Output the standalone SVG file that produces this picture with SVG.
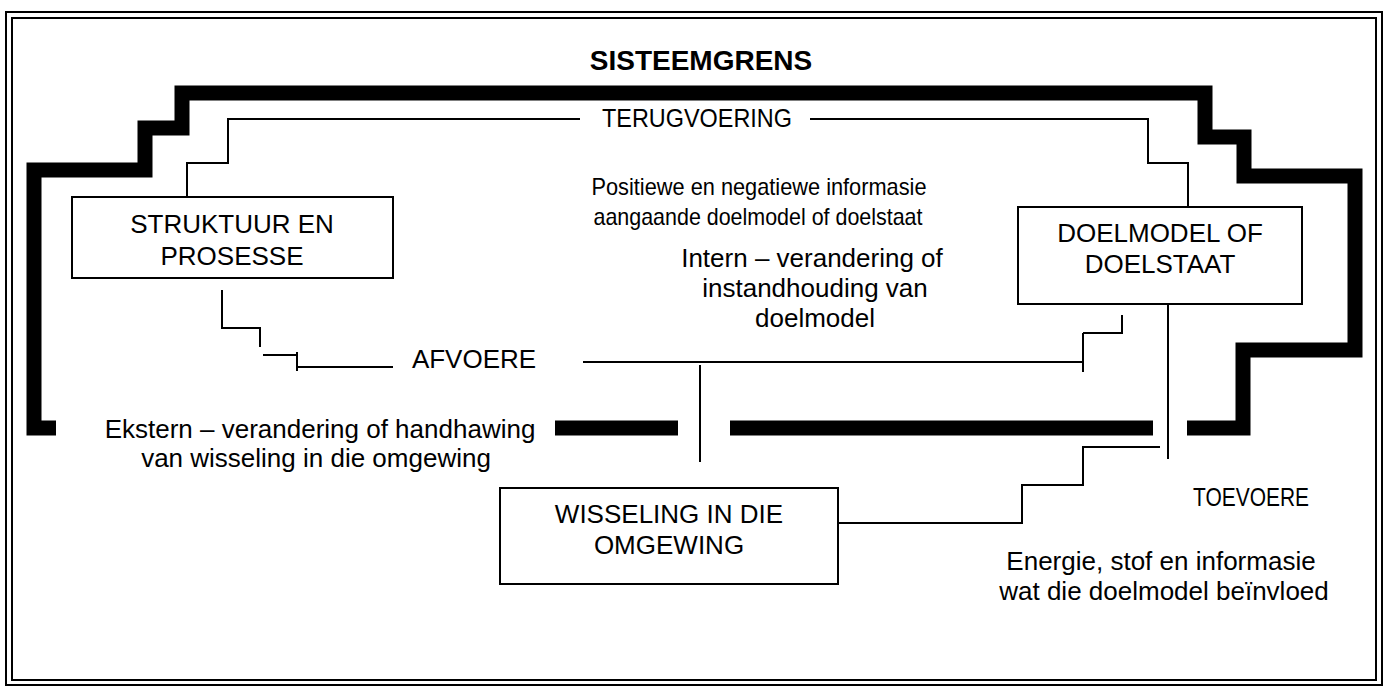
<svg xmlns="http://www.w3.org/2000/svg" width="1386" height="687" viewBox="0 0 1386 687">
  <style>
    text { font-family: "Liberation Sans", Arial, sans-serif; font-size: 26px; fill: #000; text-anchor: middle; }
    .title { font-weight: bold; font-size: 28px; }
    .small { font-size: 24px; }
    .box { fill: #fff; stroke: #000; stroke-width: 2; }
    .wire { fill: none; stroke: #000; stroke-width: 2; }
    .boundary { fill: none; stroke: #000; stroke-width: 15; stroke-linejoin: miter; }
    .frame { fill: none; stroke: #000; stroke-width: 2; }
  </style>

  <rect width="1386" height="687" fill="#fff"/>

  <!-- double page frame -->
  <g id="frame">
    <rect class="frame" x="6" y="12" width="1376" height="673"/>
    <rect class="frame" x="12" y="18" width="1364" height="662" stroke-width="1.5"/>
  </g>

  <!-- system boundary: heavy stepped outline with gaps for the flows -->
  <g id="sisteemgrens">
    <text class="title" x="701" y="70">SISTEEMGRENS</text>
    <path class="boundary" d="M56,428 H34 V170 H145 V128 H182 V93 H1205 V137 H1244 V176 H1355 V350 H1243 V428 H1187"/>
    <path class="boundary" d="M555,428 H678 M730,428 H1153"/>
  </g>

  <!-- flow lines -->
  <g id="connectors">
    <path class="wire" d="M187,197 V163 H228 V119 H580"/>
    <path class="wire" d="M810,119 H1148 V163 H1188 V207"/>
    <path class="wire" d="M222,290 V328 H260 V347"/>
    <path class="wire" d="M263,355 H297 M297,352 V371 M297,367 H393"/>
    <path class="wire" d="M583,362 H1083 M1083,333 V372 M1083,333 H1122 V315"/>
    <path class="wire" d="M700,365 V462"/>
    <path class="wire" d="M1168,304 V459"/>
    <path class="wire" d="M838,523 H1022 V485 H1083 V447 H1160"/>
  </g>

  <g id="struktuur-en-prosesse">
    <rect class="box" x="72" y="197" width="321" height="81"/>
    <text x="232" y="233">STRUKTUUR EN</text>
    <text x="232" y="265">PROSESSE</text>
  </g>

  <g id="doelmodel">
    <rect class="box" x="1018" y="207" width="284" height="97"/>
    <text x="1160" y="242">DOELMODEL OF</text>
    <text x="1160" y="273">DOELSTAAT</text>
  </g>

  <g id="wisseling">
    <rect class="box" x="500" y="488" width="338" height="96"/>
    <text x="669" y="523">WISSELING IN DIE</text>
    <text x="669" y="554">OMGEWING</text>
  </g>

  <!-- flow labels -->
  <g id="labels">
    <text x="697" y="127" textLength="190" lengthAdjust="spacingAndGlyphs">TERUGVOERING</text>
    <text class="small" x="759" y="195" textLength="335" lengthAdjust="spacingAndGlyphs">Positiewe en negatiewe informasie</text>
    <text class="small" x="758" y="225" textLength="329" lengthAdjust="spacingAndGlyphs">aangaande doelmodel of doelstaat</text>
    <text x="812" y="267">Intern – verandering of</text>
    <text x="815" y="297">instandhouding van</text>
    <text x="815" y="327">doelmodel</text>
    <text x="474" y="368">AFVOERE</text>
    <text x="320" y="438">Ekstern – verandering of handhawing</text>
    <text x="316" y="467">van wisseling in die omgewing</text>
    <text x="1251" y="506" textLength="116" lengthAdjust="spacingAndGlyphs">TOEVOERE</text>
    <text x="1161" y="570">Energie, stof en informasie</text>
    <text x="1164" y="600">wat die doelmodel beïnvloed</text>
  </g>
</svg>
